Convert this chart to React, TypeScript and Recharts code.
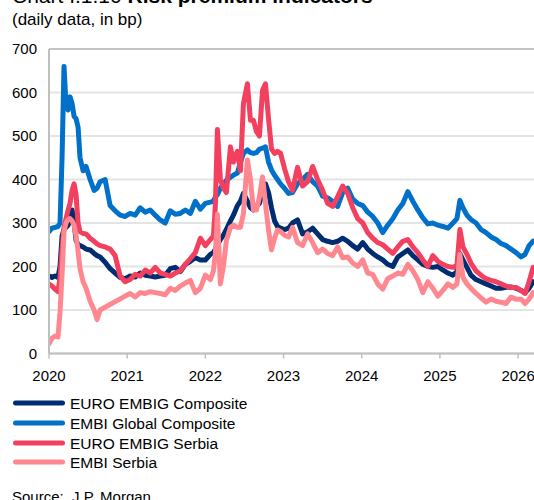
import React from 'react';
import { LineChart, Line, XAxis, YAxis, CartesianGrid, ReferenceLine } from 'recharts';

const dates = [
  2020.000, 2020.038, 2020.077, 2020.115, 2020.141, 2020.167, 2020.192, 2020.218, 2020.244, 2020.269,
  2020.295, 2020.321, 2020.346, 2020.372, 2020.397, 2020.436, 2020.474, 2020.526, 2020.577, 2020.615,
  2020.654, 2020.718, 2020.782, 2020.846, 2020.910, 2020.974, 2021.038, 2021.103, 2021.167, 2021.231,
  2021.295, 2021.359, 2021.423, 2021.487, 2021.551, 2021.615, 2021.679, 2021.744, 2021.808, 2021.872,
  2021.936, 2022.000, 2022.064, 2022.103, 2022.128, 2022.154, 2022.192, 2022.231, 2022.269, 2022.321,
  2022.359, 2022.410, 2022.449, 2022.487, 2022.538, 2022.577, 2022.615, 2022.654, 2022.692, 2022.731,
  2022.769, 2022.808, 2022.846, 2022.885, 2022.923, 2022.962, 2023.013, 2023.064, 2023.115, 2023.179,
  2023.244, 2023.308, 2023.372, 2023.436, 2023.500, 2023.564, 2023.628, 2023.692, 2023.756, 2023.821,
  2023.885, 2023.949, 2024.013, 2024.077, 2024.141, 2024.205, 2024.269, 2024.333, 2024.397, 2024.462,
  2024.526, 2024.590, 2024.654, 2024.718, 2024.782, 2024.846, 2024.910, 2024.974, 2025.038, 2025.103,
  2025.167, 2025.218, 2025.256, 2025.295, 2025.346, 2025.397, 2025.462, 2025.526, 2025.590, 2025.654,
  2025.718, 2025.782, 2025.846, 2025.910, 2025.974, 2026.038, 2026.090, 2026.141, 2026.192,
];

const euroEmbigComposite = [
  178, 175, 178, 175, 200, 270, 285, 290, 295, 310,
  330, 300, 260, 250, 248, 245, 240, 238, 230, 225,
  222, 210, 195, 185, 175, 172, 178, 176, 185, 180,
  178, 176, 178, 180, 195, 198, 188, 205, 212, 220,
  215, 215, 228, 232, 240, 250, 262, 272, 285, 305,
  318, 340, 350, 368, 350, 335, 330, 340, 345, 370,
  390, 370, 335, 305, 292, 288, 285, 288, 300, 307,
  275, 280, 288, 275, 262, 258, 255, 258, 265, 258,
  248, 240, 255, 240, 230, 222, 215, 205, 200, 222,
  230, 238, 225, 215, 205, 200, 198, 200, 192, 185,
  180, 188, 230, 215, 198, 180, 170, 165, 160, 155,
  150, 150, 152, 153, 150, 145, 140, 150, 165,
];

const embiGlobalComposite = [
  280, 288, 290, 292, 300, 450, 660, 570, 560, 590,
  575, 545, 540, 520, 450, 420, 430, 400, 375, 380,
  395, 400, 340, 328, 318, 315, 322, 318, 335, 325,
  330, 318, 307, 300, 328, 320, 322, 330, 322, 350,
  332, 345, 348, 350, 360, 365, 380, 390, 398, 405,
  410, 415, 440, 460, 468, 462, 460, 462, 470, 472,
  475, 440, 422, 410, 400, 390, 380, 368, 370, 390,
  400, 412, 395, 385, 362, 358, 350, 338, 370, 380,
  355, 345, 340, 325, 315, 300, 278, 295, 310, 330,
  345, 372, 350, 330, 312, 298, 300, 295, 292, 288,
  300, 310, 352, 335, 318, 308, 300, 285, 278, 268,
  262, 253, 248, 240, 232, 222, 228, 248, 258,
];

const euroEmbigSerbia = [
  160, 155, 148, 142, 175, 240, 290, 310, 330, 345,
  375, 390, 365, 300, 280, 276, 275, 265, 258, 252,
  248, 245, 240, 225, 178, 165, 170, 182, 178, 192,
  185, 198, 185, 182, 178, 185, 190, 205, 218, 232,
  265, 248, 262, 270, 340, 515, 400, 380, 370, 475,
  440, 465, 420, 575, 620, 536, 536, 510, 500, 605,
  620, 540, 470, 460, 465, 460, 425, 395, 375, 428,
  385, 395, 430, 400, 375, 345, 338, 360, 385, 368,
  335, 310, 300, 278, 265, 255, 250, 240, 230, 245,
  258, 262, 245, 232, 215, 200, 225, 212, 205, 200,
  198, 202, 285, 245, 228, 208, 190, 180, 172, 168,
  165, 160, 155, 152, 152, 145, 138, 165, 198,
];

const embiSerbia = [
  22, 35, 40, 38, 95, 180, 280, 300, 308, 310,
  305, 295, 270, 235, 195, 165, 150, 120, 100, 78,
  100, null, null, null, null, 132, 138, 130, 140, 138,
  142, 140, 138, 135, 150, 145, 155, 162, 168, 140,
  150, 180, 170, 190, 230, 320, 160, 200, 260, 290,
  295, 290, 290, 322, 445, 399, 330, 330, 360, 406,
  345, 284, 238, 265, 284, 280, 272, 268, 290, 255,
  248, 275, 255, 232, 240, 230, 225, 245, 220, 222,
  208, 200, 215, 185, 182, 160, 148, 172, 178, 185,
  182, 205, 190, 170, 140, 165, 150, 132, 145, 160,
  152, 160, 228, 175, 160, 150, 138, 128, 118, 125,
  120, 118, 115, 130, 125, 125, 115, 125, 140,
];

const yearTicks = [2020, 2021, 2022, 2023, 2024, 2025, 2026];
const valueTicks = [0, 100, 200, 300, 400, 500, 600, 700];

const series = [
  { key: 'euroComp', name: 'EURO EMBIG Composite', color: '#002D72', values: euroEmbigComposite },
  { key: 'embiGlobal', name: 'EMBI Global Composite', color: '#0070C8', values: embiGlobalComposite },
  { key: 'euroSerbia', name: 'EURO EMBIG Serbia', color: '#F4405F', values: euroEmbigSerbia },
  { key: 'embiSerbia', name: 'EMBI Serbia', color: '#FF8890', values: embiSerbia },
];

const data = dates.map((t, i) => {
  const row: Record<string, number | null> = { t };
  series.forEach((s) => {
    row[s.key] = s.values[i];
  });
  return row;
});

const FONT = '"Liberation Sans", Arial, sans-serif';

export default function App() {
  return (
    <div
      style={{
        position: 'absolute',
        left: 0,
        top: 0,
        width: 534,
        height: 500,
        overflow: 'hidden',
        background: '#fff',
        fontFamily: FONT,
        color: '#000',
      }}
    >
      <div style={{ position: 'absolute', left: 12, top: -15, fontSize: 21, lineHeight: '21px', whiteSpace: 'nowrap' }}>
        Chart I.1.10 <b>Risk premium indicators</b>
      </div>
      <div style={{ position: 'absolute', left: 12, top: 11, fontSize: 17, lineHeight: '17px', whiteSpace: 'nowrap' }}>
        (daily data, in bp)
      </div>
      <div style={{ position: 'absolute', left: 0, top: 0 }}>
        <LineChart
          width={540}
          height={400}
          data={data}
          margin={{ top: 49, right: 2, left: 0, bottom: 0 }}
        >
          <CartesianGrid horizontal vertical={false} stroke="#E4E4E4" strokeWidth={2} />
          <ReferenceLine y={700} stroke="#C4C4C4" strokeWidth={2} ifOverflow="extendDomain" />
          <XAxis
            dataKey="t"
            type="number"
            domain={[2020, 2026.255]}
            ticks={yearTicks}
            tickFormatter={(v: number) => String(Math.round(v))}
            allowDataOverflow
            height={46.5}
            axisLine={{ stroke: '#BFBFBF', strokeWidth: 2 }}
            tickLine={{ stroke: '#BFBFBF', strokeWidth: 1.5 }}
            tickSize={5}
            tickMargin={11.5}
            tick={{ fill: '#000', fontSize: 15, fontFamily: FONT }}
          />
          <YAxis
            type="number"
            domain={[0, 700]}
            ticks={valueTicks}
            width={49}
            axisLine={{ stroke: '#BFBFBF', strokeWidth: 2 }}
            tickLine={false}
            tickSize={0}
            tickMargin={12}
            tick={{ fill: '#000', fontSize: 15, fontFamily: FONT }}
          />
          {series.map((s) => (
            <Line
              key={s.key}
              type="linear"
              dataKey={s.key}
              name={s.name}
              stroke={s.color}
              strokeWidth={5}
              strokeLinejoin="round"
              strokeLinecap="round"
              dot={false}
              activeDot={false}
              connectNulls
              isAnimationActive={false}
            />
          ))}
        </LineChart>
      </div>
      {series.map((s, i) => (
        <div
          key={s.key}
          style={{ position: 'absolute', left: 0, top: 393.9 + i * 19.8, width: 534, height: 20 }}
        >
          <svg width={60} height={20} style={{ position: 'absolute', left: 10, top: 0 }}>
            <line x1={5.5} x2={52.5} y1={9.1} y2={9.1} stroke={s.color} strokeWidth={5} strokeLinecap="round" />
          </svg>
          <div
            style={{
              position: 'absolute',
              left: 70,
              top: 0,
              fontSize: 15.5,
              lineHeight: '20px',
              whiteSpace: 'nowrap',
            }}
          >
            {s.name}
          </div>
        </div>
      ))}
      <div
        style={{ position: 'absolute', left: 12, top: 488.7, fontSize: 15, lineHeight: '15px', whiteSpace: 'pre' }}
      >
        {'Source:  J.P. Morgan.'}
      </div>
    </div>
  );
}
